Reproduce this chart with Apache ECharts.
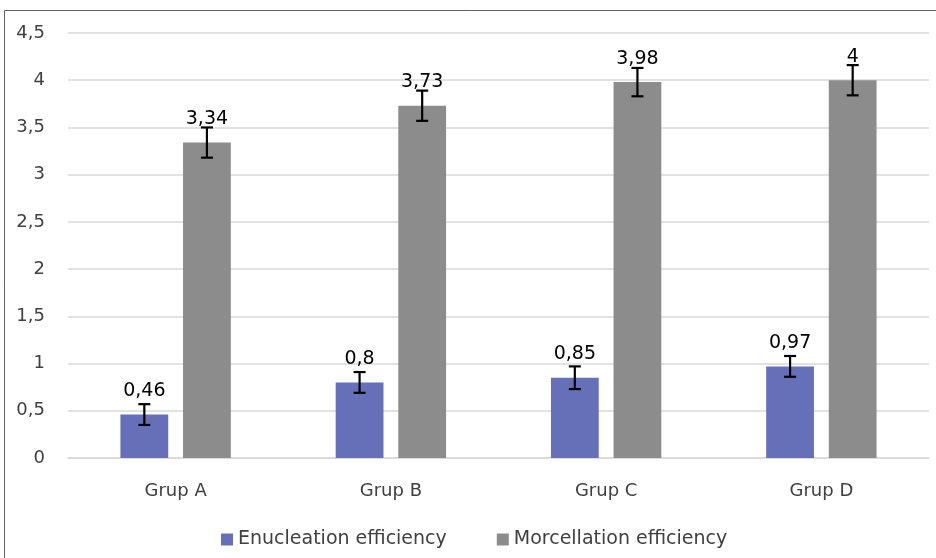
<!DOCTYPE html>
<html>
<head>
<meta charset="utf-8">
<script src="https://cdn.jsdelivr.net/npm/echarts@6/dist/echarts.min.js"></script>
<style>html,body{margin:0;padding:0;background:#fff}#c{width:936px;height:558px}</style>
</head>
<body>
<div id="c"></div>
<script>
const categories = ['Grup A', 'Grup B', 'Grup C', 'Grup D'];
const enucleation = [0.46, 0.8, 0.85, 0.97];
const morcellation = [3.34, 3.73, 3.98, 4];
const enucleationErr = [0.11, 0.11, 0.12, 0.11];
const morcellationErr = [0.16, 0.16, 0.15, 0.16];
const seriesNames = ['Enucleation efficiency', 'Morcellation efficiency'];

const FONT = '"DejaVu Sans", sans-serif';
const BAR_W = 0.222, GAP = 0.31;
const comma = v => String(v).replace('.', ',');

function errSeries(vals, errs, idx) {
  return {
    type: 'custom',
    silent: true,
    z: 5,
    data: vals.map((v, i) => [i, v, errs[i]]),
    renderItem: function (params, api) {
      const i = api.value(0), v = api.value(1), e = api.value(2);
      const c = api.coord([i, v]);
      const cw = api.size([1, 0])[0];
      const bw = cw * BAR_W, g = bw * GAP;
      const x = c[0] + (idx === 0 ? -1 : 1) * (bw + g) / 2;
      const top = api.coord([i, v + e])[1];
      const bot = api.coord([i, v - e])[1];
      const cap = 6;
      const st = { stroke: '#000', lineWidth: 2.2 };
      return {
        type: 'group',
        children: [
          { type: 'line', shape: { x1: x, y1: top, x2: x, y2: bot }, style: st },
          { type: 'line', shape: { x1: x - cap, y1: top, x2: x + cap, y2: top }, style: st },
          { type: 'line', shape: { x1: x - cap, y1: bot, x2: x + cap, y2: bot }, style: st }
        ]
      };
    }
  };
}

const chart = echarts.init(document.getElementById('c'));
chart.setOption({
  animation: false,
  textStyle: { fontFamily: FONT },
  graphic: [{
    type: 'rect', silent: true, z: -1,
    shape: { x: 4.5, y: 10.5, width: 960, height: 600 },
    style: { fill: 'none', stroke: '#5f5f5f', lineWidth: 1 }
  }],
  grid: { left: 68, right: 7, top: 33, bottom: 100 },
  legend: {
    bottom: 4, left: 216,
    itemWidth: 12, itemHeight: 12, itemGap: 50,
    icon: 'rect',
    textStyle: { fontSize: 19, color: '#404040', fontFamily: FONT },
    data: seriesNames
  },
  xAxis: {
    type: 'category',
    data: categories,
    axisLine: { lineStyle: { color: '#d9d9d9', width: 1.5 } },
    axisTick: { show: false },
    axisLabel: { color: '#404040', fontSize: 18, margin: 24 }
  },
  yAxis: {
    type: 'value', min: 0, max: 4.5, interval: 0.5,
    axisLine: { show: false }, axisTick: { show: false },
    splitLine: { lineStyle: { color: '#d9d9d9', width: 1.5 } },
    axisLabel: { color: '#404040', fontSize: 18, margin: 23, formatter: comma }
  },
  series: [
    {
      name: seriesNames[0], type: 'bar', data: enucleation,
      barWidth: (BAR_W * 100) + '%', barGap: (GAP * 100) + '%',
      itemStyle: { color: '#6670b8' },
      label: { show: true, position: 'top', distance: 14, fontSize: 19, color: '#000', formatter: p => comma(p.value) }
    },
    {
      name: seriesNames[1], type: 'bar', data: morcellation,
      barWidth: (BAR_W * 100) + '%', barGap: (GAP * 100) + '%',
      itemStyle: { color: '#8c8c8c' },
      label: { show: true, position: 'top', distance: 14, fontSize: 19, color: '#000', formatter: p => comma(p.value) }
    },
    errSeries(enucleation, enucleationErr, 0),
    errSeries(morcellation, morcellationErr, 1)
  ]
});
</script>
</body>
</html>
